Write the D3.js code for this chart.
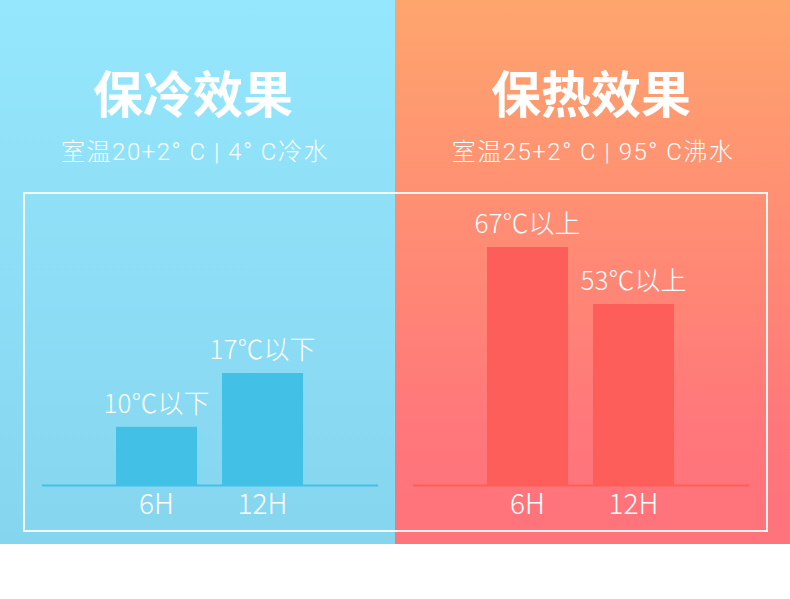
<!DOCTYPE html>
<html><head><meta charset="utf-8">
<script src="https://cdn.jsdelivr.net/npm/d3@7/dist/d3.min.js"></script>
<style>html,body{margin:0;padding:0;background:#fff;}svg{display:block;}text{font-family:"Noto Sans CJK SC","Noto Sans",sans-serif;fill:#fff;}</style>
</head><body><svg id="c" width="790" height="599"></svg>
<script>
const categories = ["6H", "12H"];
const coldValues = [10, 17];
const coldLabels = ["10℃以下", "17℃以下"];
const hotValues = [67, 53];
const hotLabels = ["67℃以上", "53℃以上"];
const titles = ["保冷效果", "保热效果"];
const subtitles = ["室温20+2° C | 4° C冷水", "室温25+2° C | 95° C沸水"];

const svg = d3.select("#c");
const defs = svg.append("defs");
function grad(id, stops){
  const g = defs.append("linearGradient").attr("id", id).attr("x1",0).attr("y1",0).attr("x2",0).attr("y2",1);
  stops.forEach(s => g.append("stop").attr("offset", s[0]).attr("stop-color", s[1]));
}
grad("gCold", [[0,"#95e7fd"],[1,"#85d5ee"]]);
grad("gHot", [[0,"#fea56d"],[0.55,"#ff8576"],[0.8,"#ff767b"],[1,"#ff737a"]]);

const panels = [
  {x0:0, x1:395, fill:"url(#gCold)", bar:"#43c0e6", values:coldValues, labels:coldLabels,
   xr:[116,303], dom:[2.3,17], yr:[486,373], line:[42,378], tx:193, title:titles[0], sub:subtitles[0]},
  {x0:395, x1:790, fill:"url(#gHot)", bar:"#fd5e59", values:hotValues, labels:hotLabels,
   xr:[487,674], dom:[8.3,67], yr:[486,247], line:[413,749], tx:591, title:titles[1], sub:subtitles[1]}
];

panels.forEach(p => {
  svg.append("rect").attr("x", p.x0).attr("y", 0).attr("width", p.x1 - p.x0).attr("height", 544).attr("fill", p.fill);
});

svg.append("rect").attr("x", 24).attr("y", 193).attr("width", 743).attr("height", 338)
  .attr("fill","none").attr("stroke","#fff").attr("stroke-width",2).attr("stroke-opacity",0.9);

panels.forEach(p => {
  const x = d3.scaleBand().domain(categories).range(p.xr).paddingInner(0.236).paddingOuter(0);
  const y = d3.scaleLinear().domain(p.dom).range(p.yr);
  const g = svg.append("g");
  g.append("text").attr("x", p.tx).attr("y", 113).attr("text-anchor","middle")
    .attr("font-size", 50).attr("font-weight", "bold").text(p.title);
  g.append("text").attr("x", p.tx + 2).attr("y", 160).attr("text-anchor","middle")
    .style("font-family", "Roboto, 'Noto Sans CJK SC', sans-serif")
    .style("letter-spacing", "1.5px")
    .attr("font-size", 24).attr("font-weight", 300).text(p.sub);
  g.selectAll(".bar").data(categories).enter().append("rect")
    .attr("x", d => x(d)).attr("width", x.bandwidth())
    .attr("y", (d,i) => y(p.values[i])).attr("height", (d,i) => y(p.dom[0]) - y(p.values[i]))
    .attr("fill", p.bar);
  g.append("line").attr("x1", p.line[0]).attr("x2", p.line[1]).attr("y1", 485.5).attr("y2", 485.5)
    .attr("stroke", p.bar).attr("stroke-width", 2);
  g.selectAll(".vl").data(categories).enter().append("text")
    .attr("x", d => x(d) + x.bandwidth()/2).attr("y", (d,i) => y(p.values[i]) - 14)
    .attr("text-anchor","middle").attr("font-size", 26).attr("font-weight", 300)
    .text((d,i) => p.labels[i]);
  g.selectAll(".cl").data(categories).enter().append("text")
    .attr("x", d => x(d) + x.bandwidth()/2).attr("y", 514)
    .attr("text-anchor","middle").attr("font-size", 28).attr("font-weight", 300)
    .text(d => d);
});
</script></body></html>
